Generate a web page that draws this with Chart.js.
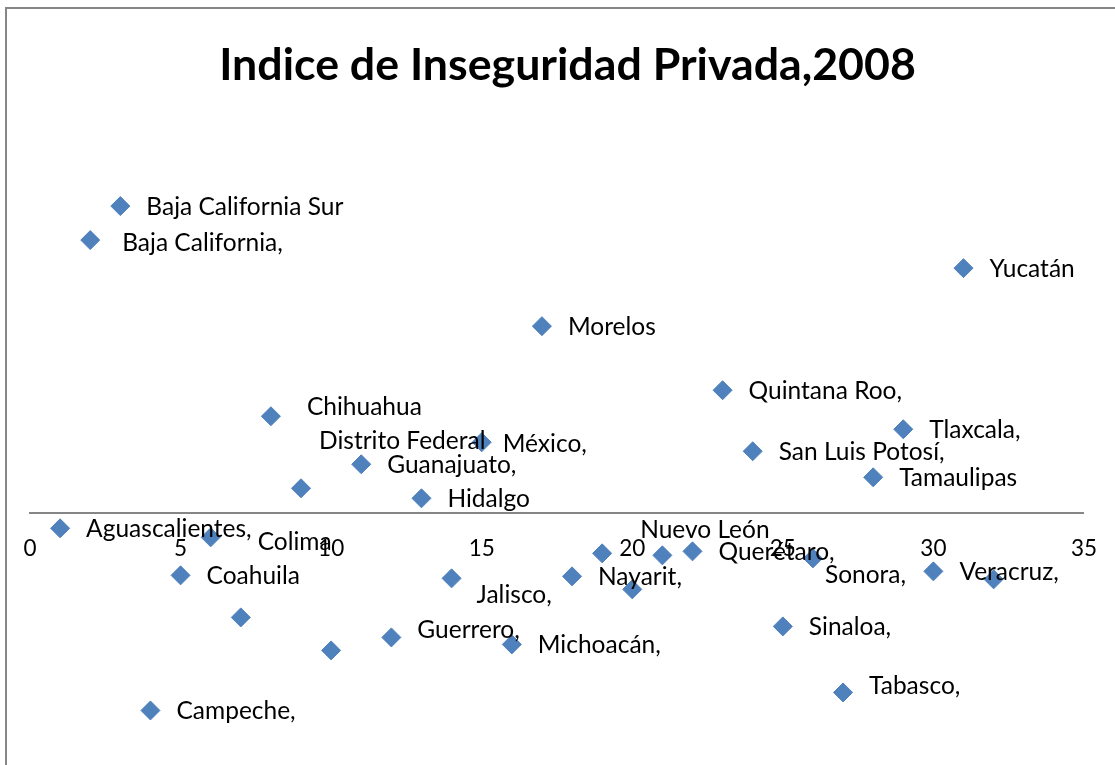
<!DOCTYPE html>
<html>
<head>
<meta charset="utf-8">
<script src="https://cdn.jsdelivr.net/npm/chart.js@4.4.0/dist/chart.umd.min.js"></script>
<style>
  html, body { margin: 0; padding: 0; background: #fff; }
  #wrap { width: 1115px; height: 765px; overflow: hidden; }
</style>
</head>
<body>
<div id="wrap"><canvas id="myChart" width="1115" height="765"></canvas></div>
<script>
const estados = [
  "Aguascalientes", "Baja California", "Baja California Sur", "Campeche",
  "Coahuila", "Colima", "Chiapas", "Chihuahua", "Distrito Federal", "Durango",
  "Guanajuato", "Guerrero", "Hidalgo", "Jalisco", "México", "Michoacán",
  "Morelos", "Nayarit", "Nuevo León", "Oaxaca", "Puebla", "Querétaro",
  "Quintana Roo", "San Luis Potosí", "Sinaloa", "Sonora", "Tabasco",
  "Tamaulipas", "Tlaxcala", "Veracruz", "Yucatán", "Zacatecas"
];

// texto tal como aparece junto a cada punto ('' = sin etiqueta)
const etiquetas = [
  "Aguascalientes,", "Baja California,", "Baja California Sur", "Campeche,",
  "Coahuila", "Colima", "", "Chihuahua", "Distrito Federal", "",
  "Guanajuato,", "Guerrero,", "Hidalgo", "Jalisco,", "México,", "Michoacán,",
  "Morelos", "Nayarit,", "Nuevo León", "", "", "Querétaro,",
  "Quintana Roo,", "San Luis Potosí,", "Sinaloa,", "Sonora,", "Tabasco,",
  "Tamaulipas", "Tlaxcala,", "Veracruz,", "Yucatán", ""
];

const posicion = [1, 2, 3, 4, 5, 6, 7, 8, 9, 10, 11, 12, 13, 14, 15, 16,
  17, 18, 19, 20, 21, 22, 23, 24, 25, 26, 27, 28, 29, 30, 31, 32];

const indice = [
  -0.15, 2.73, 3.07, -1.97, -0.62, -0.24, -1.04, 0.97, 0.25, -1.37,
  0.49, -1.24, 0.15, -0.65, 0.71, -1.31, 1.87, -0.63, -0.40, -0.76,
  -0.42, -0.38, 1.23, 0.62, -1.13, -0.45, -1.79, 0.36, 0.84, -0.58,
  2.45, -0.66
];

const xTicks = [0, 5, 10, 15, 20, 25, 30, 35];

const titulo = 'Indice de Inseguridad Privada,2008';

// desplazamiento de cada etiqueta respecto a su punto
const ajustes = {
  "Baja California": [32, 3],
  "Colima": [47, 5],
  "Chihuahua": [36, -9],
  "Distrito Federal": [18, -47],
  "Guerrero": [26, -7],
  "Jalisco": [25, 17],
  "México": [21, 2],
  "Nuevo León": [38, -23],
  "Sonora": [12, 17],
  "Tabasco": [26, -6]
};

const marco = {
  id: 'marco',
  beforeDraw(chart) {
    const ctx = chart.ctx;
    ctx.save();
    ctx.fillStyle = '#fff';
    ctx.fillRect(0, 0, chart.width, chart.height);
    ctx.strokeStyle = '#868686';
    ctx.lineWidth = 2;
    ctx.beginPath();
    ctx.moveTo(6, chart.height);
    ctx.lineTo(6, 8);
    ctx.lineTo(chart.width, 8);
    ctx.stroke();
    // titulo
    ctx.fillStyle = '#000';
    ctx.font = 'bold 44.7px Lato';
    ctx.textAlign = 'center';
    ctx.textBaseline = 'middle';
    ctx.fillText(titulo, 567.5, 66);
    ctx.restore();
  }
};

const rotulos = {
  id: 'rotulos',
  afterDatasetsDraw(chart) {
    const ctx = chart.ctx;
    const meta = chart.getDatasetMeta(0);
    ctx.save();
    ctx.font = '24.5px Lato';
    ctx.fillStyle = '#000';
    ctx.textAlign = 'left';
    ctx.textBaseline = 'middle';
    meta.data.forEach((pt, i) => {
      let txt = etiquetas[i];
      if (!txt) return;
      let off = ajustes[estados[i]] || [26, 1];
      ctx.fillText(txt, pt.x + off[0], pt.y + off[1]);
    });
    ctx.restore();
  }
};

const data = {
  datasets: [{
    label: titulo,
    data: posicion.map((x, i) => ({ x: x, y: indice[i] })),
    pointStyle: 'rectRot',
    pointRadius: 9.5,
    pointHoverRadius: 9.5,
    backgroundColor: '#4F81BD',
    borderColor: '#4F81BD',
    borderWidth: 1
  }]
};

const config = {
  type: 'scatter',
  data: data,
  plugins: [marco, rotulos],
  options: {
    responsive: false,
    animation: false,
    layout: { padding: { left: 30, right: 30, top: 103, bottom: 0 } },
    plugins: {
      legend: { display: false },
      tooltip: { enabled: false },
      title: { display: false }
    },
    scales: {
      x: {
        type: 'linear',
        position: { y: 0 },
        min: 0,
        max: 35,
        afterBuildTicks: (axis) => { axis.ticks = xTicks.map(v => ({ value: v })); },
        grid: { display: false, drawTicks: false },
        border: { display: true, color: '#868686', width: 2 },
        ticks: {
          color: '#000',
          padding: 18,
          font: { family: 'Lato', size: 22.5, lineHeight: 1.556 }
        }
      },
      y: {
        display: false,
        min: -2.41,
        max: 4.10
      }
    }
  }
};

new Chart(document.getElementById('myChart'), config);
</script>
</body>
</html>
